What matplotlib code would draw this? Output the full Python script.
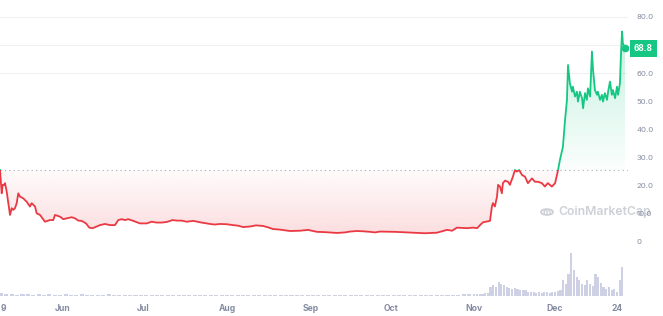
import numpy as np
import pandas as pd
import matplotlib
matplotlib.use("Agg")
import matplotlib.pyplot as plt
import matplotlib.dates as mdates
from matplotlib.patches import Rectangle, Circle

plt.rcParams['font.family'] = ['Inter', 'DejaVu Sans']

start = pd.Timestamp("2023-05-09")

# price (days after May 9)
price_day = [-0.37, 0.26, 0.63, 1.12, 1.49, 2.12, 2.71, 3.35, 3.98, 4.57, 5.20, 5.84, 6.43, 7.06,
             8.29, 9.55, 10.78, 11.41, 12.64, 13.27, 14.50, 16.36, 18.22, 19.44, 20.07, 21.93,
             23.16, 24.42, 26.28, 27.51, 28.74, 30.00, 31.60, 32.83, 34.09, 35.58, 36.80,
             38.66, 40.52, 42.38, 43.61, 44.87, 46.10, 47.32, 49.18, 51.67, 54.16, 56.02,
             57.88, 59.74, 61.60, 63.83, 65.32, 67.17, 69.03, 71.49, 73.98, 75.8, 77.7,
             79.5, 81.4, 84.0, 86.2, 88.1, 90.0, 92.6, 94.8, 97.4, 99.3, 101.1, 103.7,
             107.4, 111.2, 114.1, 117.5, 120.4, 124.9, 127.9, 129.7, 132.3, 134.6, 137.2,
             139.0, 140.9, 146.5, 153.2, 157.6, 162.1, 165.8, 167.7, 169.5, 173.2, 175.5,
             177.0, 178.1, 179.2, 181.8, 182.5, 182.9, 183.6, 184.4, 184.8, 185.5, 186.2,
             186.6, 187.4, 188.5, 189.2, 190.3, 191.1, 191.8, 192.6, 193.7, 194.8, 195.9,
             197.4, 198.5, 199.6, 201.1, 202.2, 203.3, 204.8, 206.0, 207.1, 207.8, 208.9,
             209.7, 210.4, 210.8, 211.5, 212.3, 212.6, 213.4, 214.1, 214.5, 215.2, 216.0,
             216.4, 217.1, 217.8, 218.2, 219.0, 219.7, 220.1, 220.8, 221.6, 221.9, 222.7,
             223.4, 223.8, 224.5, 225.3, 225.7, 226.4, 227.1, 227.5, 228.3, 229.0, 229.4,
             230.1, 230.5, 230.9, 231.2, 232.0]
price = [25.6, 17.3, 20.3, 20.3, 20.9, 17.9, 13.9, 9.6, 12.0, 11.4, 12.0, 13.8, 17.3, 16.1,
         15.5, 14.3, 12.6, 13.8, 12.6, 10.2, 9.6, 7.2, 7.8, 7.8, 9.6, 9.0,
         8.1, 8.4, 8.8, 8.4, 7.6, 7.5, 6.6, 5.1, 4.9, 5.5, 6.0,
         6.4, 6.0, 6.0, 7.8, 8.1, 7.8, 8.1, 7.5, 6.6, 6.6, 7.2,
         6.9, 6.9, 7.1, 7.8, 7.6, 7.6, 7.2, 7.5, 7.0, 6.7, 6.4,
         6.2, 6.4, 6.3, 6.0, 5.8, 5.3, 5.5, 5.9, 5.7, 5.2, 4.6, 4.4,
         3.9, 4.0, 4.3, 3.6, 3.5, 3.2, 3.4, 3.7, 3.9, 3.8, 3.6,
         3.4, 3.7, 3.6, 3.3, 3.1, 3.3, 4.3, 4.0, 5.1, 4.9, 5.1,
         4.9, 6.0, 7.0, 7.5, 12.6, 13.8, 12.6, 16.1, 20.3, 19.7, 17.3,
         20.9, 21.8, 21.4, 20.3, 23.2, 25.6, 25.0, 25.6, 23.8, 23.2, 20.9,
         22.6, 21.4, 21.4, 20.9, 19.7, 20.9, 19.7, 20.9, 25.6, 29.2, 33.8,
         43.4, 50.5, 62.9, 56.4, 53.4, 55.2, 51.7, 53.4, 49.9, 53.4, 51.1,
         47.5, 52.9, 50.5, 54.6, 51.7, 67.7, 61.2, 54.0, 52.3, 53.4, 50.5,
         52.3, 49.9, 52.9, 50.5, 53.4, 57.0, 52.3, 54.0, 51.1, 55.2, 52.3,
         56.4, 67.1, 74.8, 70.6, 68.8]

# volume (relative units)
vol_day = list(range(0, 176, 2)) + list(range(176, 232))
volume = [6, 4, 5, 3, 4, 5, 3, 4, 3, 4,
          3, 3, 4, 3, 3, 4, 3, 2, 3, 3,
          4, 3, 3, 2, 3, 3, 3, 2, 3, 3,
          2, 3, 3, 2, 2, 3, 3, 2, 2, 3,
          2, 2, 3, 2, 2, 3, 2, 2, 2, 3,
          2, 2, 3, 2, 2, 2, 3, 2, 2, 3,
          2, 2, 2, 2, 3, 2, 2, 2, 2, 3,
          2, 2, 3, 2, 2, 2, 2, 3, 2, 2,
          2, 3, 3, 2, 3, 3, 4, 4,
          4, 4, 5, 5, 6, 8, 21, 25, 20, 33,
          28, 25, 21, 19, 17, 18, 17, 13, 14, 13,
          10, 9, 10, 8, 9, 7, 10, 9, 8, 9,
          10, 12, 14, 37, 29, 52, 100, 60, 45, 37,
          29, 25, 37, 29, 24, 52, 45, 30, 21, 17,
          21, 13, 17, 10, 37, 67]

tick_dates = ["2023-05-09", "2023-06-01", "2023-07-01", "2023-08-01", "2023-09-01",
              "2023-10-01", "2023-11-01", "2023-12-01", "2023-12-24"]
tick_labels = ["9", "Jun", "Jul", "Aug", "Sep", "Oct", "Nov", "Dec", "24"]
y_ticks = [0, 10, 20, 30, 40, 50, 60, 70, 80]
y_labels = ["0", "10.0", "20.0", "30.0", "40.0", "50.0", "60.0", "", "80.0"]
grid_levels = [60, 70, 80]

RED = "#ea3943"
GREEN = "#16c784"
GREY = "#858ca2"
WM = "#cdd0d7"

t = start + pd.to_timedelta(price_day, unit="D")
tv = start + pd.to_timedelta(vol_day, unit="D")
p = np.array(price)
base = price[0]

fig = plt.figure(figsize=(6.63, 3.16), dpi=100)
ax = fig.add_axes([0, 20 / 316, 628 / 663, 296 / 316])
vax = ax.twinx()
ax.set_zorder(vax.get_zorder() + 1)
ax.patch.set_visible(False)

# volume bars
widths = [1.5] * 88 + [0.8] * 56
vax.bar(tv, volume, width=widths, color="#cdd1e3", align="center")
vax.set_ylim(0, 690)
vax.axis("off")

x0 = start + pd.Timedelta(days=-0.37)
x1 = start + pd.Timedelta(days=233.1)

# gradient fills between line and the opening price
def grad_fill(lo, hi, rgb, a_lo, a_hi, ycl):
    poly = ax.fill_between(t, ycl, base, color="none", lw=0)
    img = np.zeros((100, 1, 4))
    img[..., :3] = matplotlib.colors.to_rgb(rgb)
    img[..., 3] = np.linspace(a_lo, a_hi, 100).reshape(-1, 1)
    im = ax.imshow(img, aspect="auto", origin="lower",
                   extent=[mdates.date2num(x0), mdates.date2num(x1), lo, hi],
                   zorder=1, interpolation="bilinear")
    im.set_clip_path(poly.get_paths()[0], transform=ax.transData)

grad_fill(3, base, RED, 0.17, 0.02, np.minimum(p, base))
grad_fill(base, 76, GREEN, 0.02, 0.26, np.maximum(p, base))
ax.set_xlim(x0, x1)
ax.set_ylim(-19.2, 86.0)

for g in grid_levels:
    ax.axhline(g, color="#f0f1f3", lw=0.8, zorder=0.5)
ax.axhline(base, color="#a6abb8", ls=(0, (1, 3)), lw=0.8, zorder=2)

lr, = ax.plot(t, p, color=RED, lw=1.3, zorder=3, solid_joinstyle="round")
lg, = ax.plot(t, p, color=GREEN, lw=1.3, zorder=3, solid_joinstyle="round")
lr.set_clip_path(Rectangle((0, -100), 1e6, base + 100, transform=ax.transData))
lg.set_clip_path(Rectangle((0, base), 1e6, 200, transform=ax.transData))
ax.plot(t[-1:], p[-1:], "o", color=GREEN, ms=4.5, zorder=4)

ax.yaxis.tick_right()
ax.set_yticks(y_ticks)
ax.set_yticklabels(y_labels)
ax.set_xticks(pd.to_datetime(tick_dates))
ax.set_xticklabels(tick_labels)
ax.tick_params(axis="y", length=0, pad=6, labelsize=5.6, labelcolor=GREY)
ax.tick_params(axis="x", length=0, pad=6, labelsize=6.2, labelcolor=GREY)
for lab in ax.get_xticklabels():
    lab.set_fontweight("bold")
ax.get_xticklabels()[0].set_horizontalalignment("left")
for s in ax.spines.values():
    s.set_visible(False)

# last price tag
ax.text(1.0 + 6 / 628, p[-1], "68.8", transform=ax.get_yaxis_transform(),
        ha="left", va="center", color="white", fontsize=6, fontweight="bold",
        bbox=dict(boxstyle="square,pad=0.5", fc=GREEN, ec="none"), clip_on=False, zorder=6)

# watermark
fig.text(558 / 663, 1 - 212 / 316, "CoinMarketCap", color=WM, fontsize=8.8,
         ha="left", va="center", fontweight="semibold", zorder=0)
fig.patches.append(Circle((547 / 663, 1 - 212 / 316), 6 / 663, transform=fig.transFigure,
                          fill=False, ec=WM, lw=1.3, zorder=0))
fig.text(547 / 663, 1 - 212.5 / 316, "m", color=WM, fontsize=6.5,
         ha="center", va="center", fontweight="bold", zorder=0)

fig.savefig("out.png", dpi=100)
